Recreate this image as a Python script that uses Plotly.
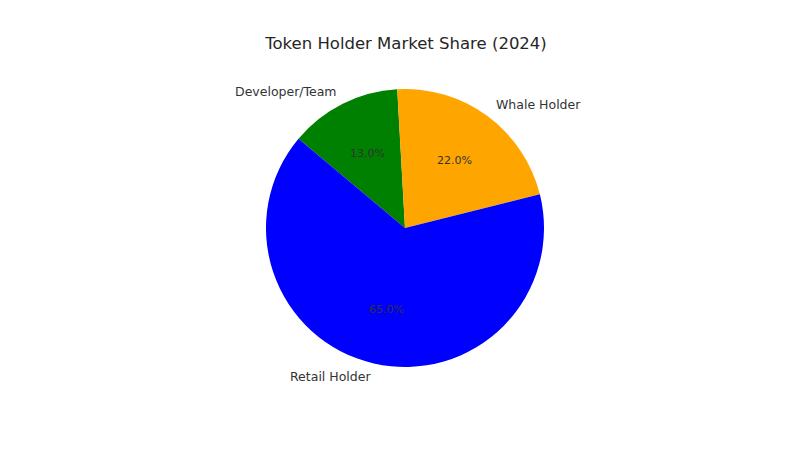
import math
import plotly.graph_objects as go

labels = ["Retail Holder", "Whale Holder", "Developer/Team"]
shares = [65, 22, 13]
colors = ["#0000ff", "#ffa500", "#008000"]
title = "Token Holder Market Share (2024)"

W, H = 800, 450
# page offset (body margin) compensation
cx, cy, r = 397, 220, 139
start_angle = 140  # degrees, counterclockwise from 3 o'clock

# matplotlib-like counterclockwise order == reversed order drawn clockwise
rl, rv, rc = labels[::-1], shares[::-1], colors[::-1]

fig = go.Figure(go.Pie(
    labels=rl, values=rv, sort=False,
    direction="clockwise", rotation=-(start_angle - 90),
    marker=dict(colors=rc, line=dict(width=0)),
    textinfo="none", hoverinfo="label+percent", showlegend=False,
    domain=dict(x=[(cx - r) / W, (cx + r) / W], y=[(H - cy - r) / H, (H - cy + r) / H]),
))

total = sum(shares)
ann = []
a0 = start_angle
for lab, v in zip(labels, shares):
    span = 360 * v / total
    mid = math.radians(a0 + span / 2)
    a0 += span
    cs, sn = math.cos(mid), math.sin(mid)
    lx = (cx + 1.1 * r * cs) / W
    ly = (H - cy + 1.1 * r * sn) / H
    right = cs > 0
    ann.append(dict(x=lx, y=ly, xref="paper", yref="paper", text=lab, showarrow=False,
                    xanchor="left" if right else "right", yanchor="middle",
                    xshift=-2 if right else 2,
                    font=dict(size=12.5, color="#333333")))
    px = (cx + 0.6 * r * cs) / W
    py = (H - cy + 0.6 * r * sn) / H
    ann.append(dict(x=px, y=py, xref="paper", yref="paper", text=f"{100 * v / total:.1f}%",
                    showarrow=False, xanchor="center", yanchor="middle",
                    font=dict(size=11, color="#333333")))

fig.update_layout(
    width=W, height=H,
    margin=dict(l=0, r=0, t=0, b=0),
    paper_bgcolor="white", plot_bgcolor="white",
    font=dict(family="DejaVu Sans", color="#333333"),
    title=dict(text=title, x=(cx + 1) / W, xanchor="center", y=1 - 35.5 / H, yanchor="middle",
               font=dict(size=16.5, color="#262626")),
    annotations=ann,
)
fig.write_html("out.html")
